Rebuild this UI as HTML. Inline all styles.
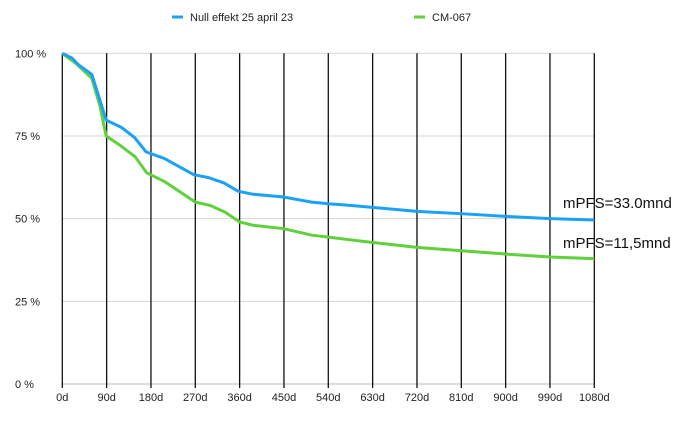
<!DOCTYPE html>
<html><head><meta charset="utf-8"><style>
body{margin:0;background:#fff;font-family:"Liberation Sans",Arial,sans-serif}
svg text{font-family:"Liberation Sans",Arial,sans-serif}
</style></head><body>
<svg id="chart" width="690" height="436" xmlns="http://www.w3.org/2000/svg">
<g id="grid"></g><g id="series"></g><g id="axes"></g>
<g>
<line x1="172" y1="17" x2="183" y2="17" stroke="#1ba1f5" stroke-width="3"/>
<text x="190" y="21" font-size="11" fill="#222">Null effekt 25 april 23</text>
<line x1="414" y1="17" x2="425" y2="17" stroke="#5ed13b" stroke-width="3"/>
<text x="432" y="21" font-size="11" fill="#222">CM-067</text>
</g>
<text x="563" y="208" font-size="15" fill="#111">mPFS=33.0mnd</text>
<text x="563" y="248" font-size="15" fill="#111">mPFS=11,5mnd</text>
</svg>
<script>
const xTicks=[0,90,180,270,360,450,540,630,720,810,900,990,1080];
const yTicks=[0,25,50,75,100];
const nullDays=[0,20,33,60,89,120,147,170,207,267,297,328,357,386,447,506,540,584,624,720,810,900,990,1080];
const nullVals=[100,98.5,96.5,93.6,79.8,77.6,74.5,70.2,68.2,63.3,62.4,60.8,58.3,57.4,56.6,55,54.5,54,53.5,52.2,51.5,50.7,50,49.6];
const cmDays=[0,29,60,76,89,117,148,171,209,270,300,330,360,387,448,507,540,584,624,720,810,900,990,1080];
const cmVals=[100,96.8,92.4,84.3,75,72.2,68.7,63.9,61.1,55,54,52,49,48,47,45,44.4,43.6,42.9,41.3,40.3,39.3,38.4,37.9];
const X0=62.3,X1=594.3,Y0=384,Y1=53.3;
const sx=d=>X0+(d/1080)*(X1-X0);
const sy=v=>Y0-(v/100)*(Y0-Y1);
const NS="http://www.w3.org/2000/svg";
const grid=document.getElementById('grid'),axes=document.getElementById('axes'),ser=document.getElementById('series');
function mk(tag,attrs,parent){const e=document.createElementNS(NS,tag);for(const k in attrs)e.setAttribute(k,attrs[k]);parent.appendChild(e);return e;}
yTicks.forEach(v=>{
 const l=mk('line',{x1:X0,x2:X1,y1:sy(v),y2:sy(v),stroke:v===0?'#bbb':'#d4d4d4','stroke-width':1},grid);
 
 
 const t=mk('text',{x:15,y:sy(v)+4,'font-size':11,fill:'#222'},axes);
 t.textContent=v+' %';
 
 
});
xTicks.forEach(d=>{
 const l=mk('line',{x1:sx(d),x2:sx(d),y1:Y1,y2:Y0+4,stroke:'#111','stroke-width':1.3},grid);
 
 
 const t=mk('text',{x:sx(d),y:401,'font-size':11,fill:'#222','text-anchor':'middle'},axes);
 t.textContent=d+'d';
 
 
});
function line(days,vals,color,name){
 const p=mk('polyline',{points:days.map((d,i)=>sx(d)+','+sy(vals[i])).join(' '),fill:'none',stroke:color,'stroke-width':3,'stroke-linejoin':'round'},ser);
 
 
}
line(cmDays,cmVals,'#5ed13b','series-cm067-line');
line(nullDays,nullVals,'#1ba1f5','series-null-effekt-line');
</script>
</body></html>
